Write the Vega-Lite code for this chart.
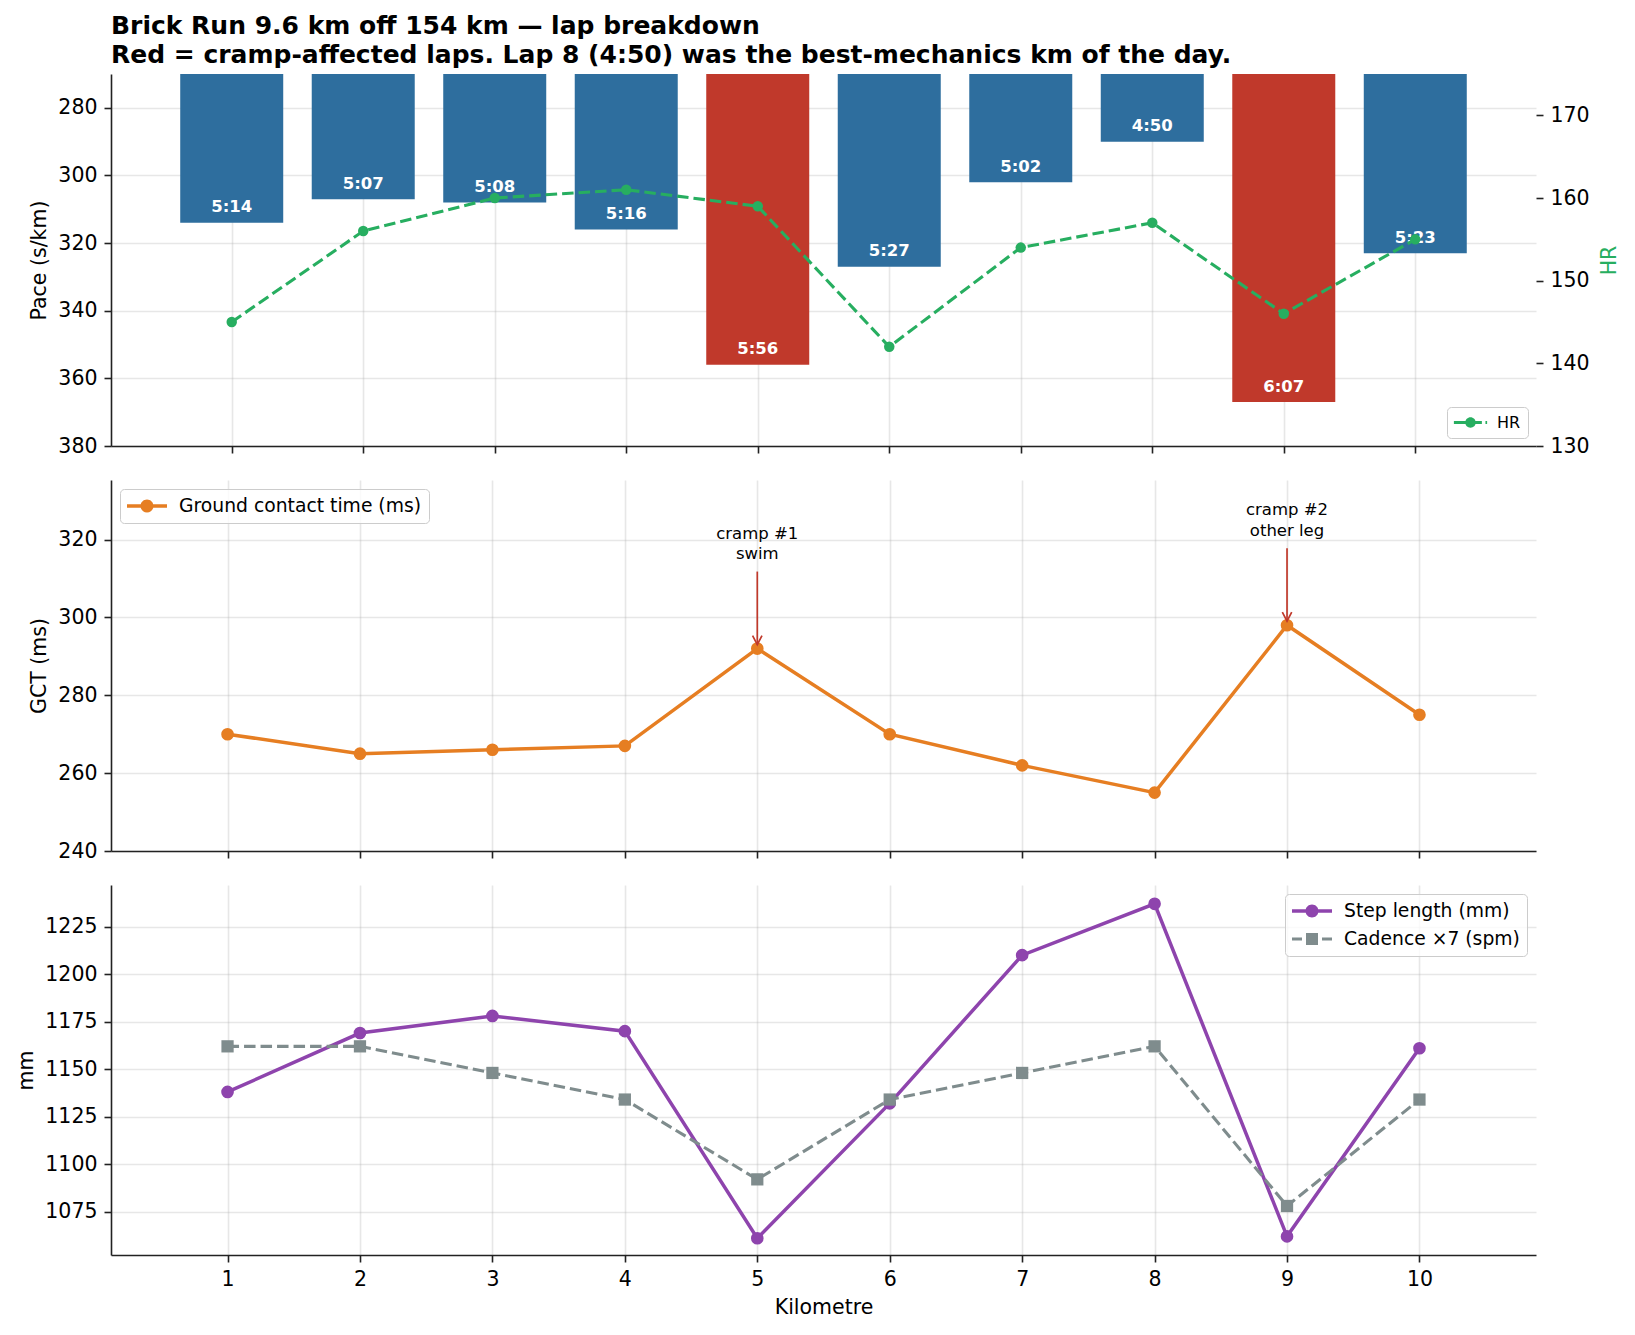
{
  "$schema": "https://vega.github.io/schema/vega-lite/v6.json",
  "background": "white",
  "padding": {"left": 16, "top": 14, "right": 5, "bottom": 5},
  "config": {
    "font": "DejaVu Sans",
    "view": {"stroke": null},
    "axis": {
      "labelFont": "DejaVu Sans",
      "labelFontSize": 20.5,
      "labelColor": "black",
      "labelFlush": false,
      "titleFont": "DejaVu Sans",
      "titleFontSize": 20.5,
      "titleFontWeight": "normal",
      "titleColor": "black",
      "tickSize": 7,
      "tickWidth": 1.6,
      "tickColor": "#222222",
      "domainColor": "#222222",
      "domainWidth": 1.6,
      "labelPadding": 7,
      "titlePadding": 8,
      "gridColor": "#b0b0b0",
      "gridOpacity": 0.3,
      "gridWidth": 1.6,
      "zindex": 1
    },
    "legend": {
      "labelFont": "DejaVu Sans",
      "labelFontSize": 18.75,
      "labelColor": "black",
      "labelLimit": 500,
      "strokeColor": "#cccccc",
      "fillColor": "rgba(255,255,255,0.8)",
      "cornerRadius": 4,
      "padding": 7,
      "symbolStrokeWidth": 0,
      "symbolSize": 400,
      "symbolOffset": 10,
      "labelOffset": 22,
      "rowPadding": 8
    }
  },
  "datasets": {
    "laps": [
      {"km": 1, "pace": 314, "label": "5:14", "cramp": false, "hr": 145, "gct": 270, "step_mm": 1138, "cadence_x7": 1162},
      {"km": 2, "pace": 307, "label": "5:07", "cramp": false, "hr": 156, "gct": 265, "step_mm": 1169, "cadence_x7": 1162},
      {"km": 3, "pace": 308, "label": "5:08", "cramp": false, "hr": 160, "gct": 266, "step_mm": 1178, "cadence_x7": 1148},
      {"km": 4, "pace": 316, "label": "5:16", "cramp": false, "hr": 161, "gct": 267, "step_mm": 1170, "cadence_x7": 1134},
      {"km": 5, "pace": 356, "label": "5:56", "cramp": true, "hr": 159, "gct": 292, "step_mm": 1061, "cadence_x7": 1092},
      {"km": 6, "pace": 327, "label": "5:27", "cramp": false, "hr": 142, "gct": 270, "step_mm": 1132, "cadence_x7": 1134},
      {"km": 7, "pace": 302, "label": "5:02", "cramp": false, "hr": 154, "gct": 262, "step_mm": 1210, "cadence_x7": 1148},
      {"km": 8, "pace": 290, "label": "4:50", "cramp": false, "hr": 157, "gct": 255, "step_mm": 1237, "cadence_x7": 1162},
      {"km": 9, "pace": 367, "label": "6:07", "cramp": true, "hr": 146, "gct": 298, "step_mm": 1062, "cadence_x7": 1078},
      {"km": 10, "pace": 323, "label": "5:23", "cramp": false, "hr": 155, "gct": 275, "step_mm": 1161, "cadence_x7": 1134}
    ],
    "notes": [
      {"km": 5, "gct": 292, "note": "cramp #1\nswim"},
      {"km": 9, "gct": 298, "note": "cramp #2\nother leg"}
    ]
  },
  "spacing": 23,
  "resolve": {"scale": {"color": "independent", "shape": "independent"}, "legend": {"color": "independent", "shape": "independent"}},
  "vconcat": [
    {
      "width": 1425,
      "height": 372,
      "title": {
        "text": ["Brick Run 9.6 km off 154 km — lap breakdown", "Red = cramp-affected laps. Lap 8 (4:50) was the best-mechanics km of the day."],
        "anchor": "start",
        "frame": "group",
        "font": "DejaVu Sans",
        "fontSize": 25,
        "fontWeight": "bold",
        "lineHeight": 29,
        "offset": 6,
        "color": "black"
      },
      "data": {"name": "laps"},
      "encoding": {
        "x": {
          "field": "km",
          "type": "quantitative",
          "scale": {"domain": [0.12, 10.88], "nice": false, "zero": false},
          "axis": {"values": [1, 2, 3, 4, 5, 6, 7, 8, 9, 10], "labels": false, "title": null}
        }
      },
      "layer": [
        {
          "layer": [
            {
              "mark": {"type": "bar", "width": 103},
              "encoding": {
                "y": {
                  "field": "pace",
                  "type": "quantitative",
                  "scale": {"domain": [270, 380], "reverse": true, "nice": false, "zero": false},
                  "axis": {"title": "Pace (s/km)", "values": [280, 300, 320, 340, 360, 380]}
                },
                "y2": {"datum": 270},
                "color": {"condition": {"test": "datum.cramp", "value": "#c0392b"}, "value": "#2e6e9e"}
              }
            },
            {
              "mark": {"type": "text", "color": "white", "fontWeight": "bold", "fontSize": 16.5, "baseline": "alphabetic", "dy": -10.5},
              "encoding": {
                "y": {"field": "pace", "type": "quantitative"},
                "text": {"field": "label"}
              }
            }
          ]
        },
        {
          "layer": [
            {
              "mark": {"type": "line", "color": "#27ae60", "strokeDash": [11.5, 5], "strokeWidth": 3.1},
              "encoding": {
                "y": {
                  "field": "hr",
                  "type": "quantitative",
                  "scale": {"domain": [130, 175], "nice": false, "zero": false},
                  "axis": {"orient": "right", "title": "HR", "titleColor": "#27ae60", "titleAngle": 270, "titlePadding": 30, "values": [130, 140, 150, 160, 170], "grid": false, "domain": false}
                }
              }
            },
            {
              "mark": {"type": "point", "filled": true, "size": 110, "opacity": 1},
              "encoding": {
                "y": {"field": "hr", "type": "quantitative"},
                "color": {
                  "datum": "HR",
                  "type": "nominal",
                  "scale": {"domain": ["HR"], "range": ["#27ae60"]},
                  "legend": {
                    "title": null,
                    "orient": "bottom-right",
                    "offset": 8,
                    "labelFontSize": 16,
                    "symbolSize": 276,
                    "symbolOffset": 8,
                    "labelOffset": 18,
                    "symbolType": "M-2,-0.187H-0.61V0.187H-2Z M-0.01,-0.187H1.37V0.187H-0.01Z M1.8,-0.187H2V0.187H1.8Z M0.63,0A0.63,0.63,0,1,1,-0.63,0A0.63,0.63,0,1,1,0.63,0Z"
                  }
                }
              }
            }
          ]
        }
      ],
      "resolve": {"scale": {"y": "independent"}, "axis": {"y": "independent"}}
    },
    {
      "width": 1425,
      "height": 371,
      "encoding": {
        "x": {
          "field": "km",
          "type": "quantitative",
          "scale": {"domain": [0.12, 10.88], "nice": false, "zero": false},
          "axis": {"values": [1, 2, 3, 4, 5, 6, 7, 8, 9, 10], "labels": false, "title": null}
        },
        "y": {
          "field": "gct",
          "type": "quantitative",
          "scale": {"domain": [240, 335.3], "nice": false, "zero": false},
          "axis": {"title": "GCT (ms)", "values": [240, 260, 280, 300, 320]}
        }
      },
      "layer": [
        {
          "data": {"name": "laps"},
          "mark": {"type": "line", "color": "#e67e22", "strokeWidth": 3.5}
        },
        {
          "data": {"name": "laps"},
          "mark": {"type": "point", "filled": true, "size": 160, "opacity": 1},
          "encoding": {
            "color": {
              "datum": "Ground contact time (ms)",
              "type": "nominal",
              "scale": {"domain": ["Ground contact time (ms)"], "range": ["#e67e22"]},
              "legend": {
                "title": null,
                "orient": "top-left",
                "offset": 9,
                "symbolType": "M-2,-0.175H2V0.175H-2Z M0.65,0A0.65,0.65,0,1,1,-0.65,0A0.65,0.65,0,1,1,0.65,0Z"
              }
            }
          }
        },
        {
          "data": {"name": "notes"},
          "mark": {"type": "rule", "color": "#c0392b", "strokeWidth": 1.7, "yOffset": -4, "y2Offset": -77},
          "encoding": {"y2": {"field": "gct"}}
        },
        {
          "data": {"name": "notes"},
          "mark": {"type": "point", "shape": "M-0.47,-0.9L0,0L0.47,-0.9", "filled": false, "size": 400, "color": "#c0392b", "strokeWidth": 1.7, "yOffset": -4, "opacity": 1}
        },
        {
          "data": {"name": "notes"},
          "mark": {"type": "text", "lineBreak": "\n", "fontSize": 16.5, "lineHeight": 20.5, "baseline": "alphabetic", "dy": -110, "color": "black"},
          "encoding": {"text": {"field": "note"}}
        }
      ]
    },
    {
      "width": 1425,
      "height": 370,
      "data": {"name": "laps"},
      "transform": [{"fold": ["step_mm", "cadence_x7"], "as": ["series", "mm"]}],
      "encoding": {
        "x": {
          "field": "km",
          "type": "quantitative",
          "scale": {"domain": [0.12, 10.88], "nice": false, "zero": false},
          "axis": {"values": [1, 2, 3, 4, 5, 6, 7, 8, 9, 10], "format": "d", "title": "Kilometre"}
        },
        "y": {
          "field": "mm",
          "type": "quantitative",
          "scale": {"domain": [1052.2, 1246.9], "nice": false, "zero": false},
          "axis": {"title": "mm", "format": "d", "values": [1075, 1100, 1125, 1150, 1175, 1200, 1225]}
        }
      },
      "layer": [
        {
          "transform": [{"filter": "datum.series == 'step_mm'"}],
          "mark": {"type": "line", "color": "#8e44ad", "strokeWidth": 3.5}
        },
        {
          "transform": [{"filter": "datum.series == 'step_mm'"}],
          "mark": {"type": "point", "filled": true, "shape": "circle", "size": 160, "opacity": 1, "color": "#8e44ad"}
        },
        {
          "transform": [{"filter": "datum.series == 'cadence_x7'"}],
          "mark": {"type": "line", "color": "#7f8c8d", "strokeWidth": 3.1, "strokeDash": [11.5, 5]}
        },
        {
          "transform": [{"filter": "datum.series == 'cadence_x7'"}],
          "mark": {"type": "point", "filled": true, "shape": "square", "size": 150, "opacity": 1, "color": "#7f8c8d"}
        },
        {
          "mark": {"type": "point", "filled": true, "opacity": 0},
          "encoding": {
            "color": {
              "field": "series",
              "type": "nominal",
              "scale": {"domain": ["step_mm", "cadence_x7"], "range": ["#8e44ad", "#7f8c8d"]},
              "legend": {
                "title": null,
                "orient": "top-right",
                "offset": 9,
                "symbolOpacity": 1,
                "labelExpr": "datum.label == 'step_mm' ? 'Step length (mm)' : 'Cadence ×7 (spm)'"
              }
            },
            "shape": {
              "field": "series",
              "type": "nominal",
              "scale": {
                "domain": ["step_mm", "cadence_x7"],
                "range": [
                  "M-2,-0.175H2V0.175H-2Z M0.65,0A0.65,0.65,0,1,1,-0.65,0A0.65,0.65,0,1,1,0.65,0Z",
                  "M-2,-0.155H-1V0.155H-2Z M1,-0.155H2V0.155H1Z M-0.6,-0.6H0.6V0.6H-0.6Z"
                ]
              },
              "legend": {
                "title": null,
                "orient": "top-right",
                "offset": 9,
                "symbolOpacity": 1,
                "labelExpr": "datum.label == 'step_mm' ? 'Step length (mm)' : 'Cadence ×7 (spm)'"
              }
            }
          }
        }
      ]
    }
  ]
}
